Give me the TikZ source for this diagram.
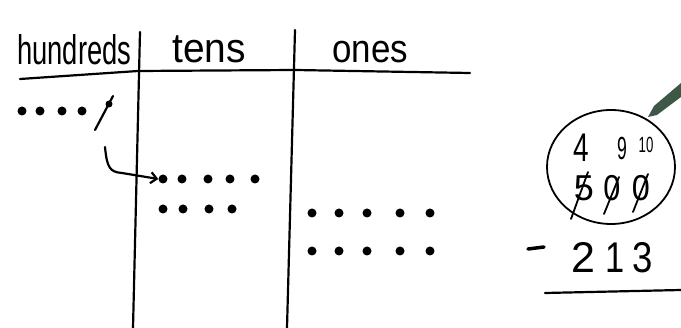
\documentclass[tikz,border=0pt]{standalone}
\usepackage{fontspec}
\setmainfont{Liberation Sans}
\usetikzlibrary{arrows.meta,shapes.geometric}
\definecolor{pencil}{RGB}{62,88,72}
\begin{document}
\begin{tikzpicture}[x=1pt,y=-1pt, line cap=round, line join=round,
  pen/.style={line width=2.2pt},
  dotn/.style={circle, fill=black, inner sep=0pt, minimum width=9pt},
  lbl/.style={inner sep=0pt, anchor=base west, font=\fontsize{36}{36}\selectfont},
  dig/.style={inner sep=0pt, anchor=base, font=\fontsize{#1}{#1}\selectfont}]
\useasboundingbox (0,0) rectangle (681,328);
% table lines
\draw[pen] (20,79) -- (138,71) -- (295,70) -- (470,73);
\draw[pen] (140,32) -- (133,328);
\draw[pen] (295,30) -- (287,328);
% headings
\node[lbl] (hh) at (17,65) {\scalebox{0.76}[1.15]{hundreds}};
\node[lbl] (ht) at (172,63) {\scalebox{1.08}[1.15]{tens}};
\node[lbl] (ho) at (332,63) {\scalebox{0.97}[1.1]{ones}};
% hundreds dots
\foreach \x [count=\i] in {22,40,62,82} \node[dotn] (h\i) at (\x,111) {};
\draw[pen] (95,130) -- (113,96);
\node[dotn, minimum width=7pt] (h5) at (109,104) {};
% tens dots
\foreach \x [count=\i] in {163,182,208,230,255} \node[dotn] (t\i) at (\x,179) {};
\foreach \x [count=\i] in {163,183,209,232} \node[dotn] (u\i) at (\x,209) {};
% ones dots
\foreach \x [count=\i] in {312,339,367,400,430} \node[dotn] (o\i) at (\x,213) {};
\foreach \x [count=\i] in {312,339,367,400,430} \node[dotn] (p\i) at (\x,251) {};
% regroup arrow
\coordinate (brk) at (105,147);
\draw[pen, -{Straight Barb[length=6pt,width=11pt]}] (brk) .. controls (107,168) and (110,172) .. (122,173) -- (t1.west);
% circled subtraction
\node[draw, ellipse, line width=1.8pt, minimum width=128pt, minimum height=114pt, inner sep=0pt] (ring) at (611,167) {};
\fill[pencil] (648,117) -- (654,106) -- (681,83) -- (681,97) -- (657,115) -- cycle;
\node[dig=40] (n4) at (581,162) {\scalebox{0.7}[1]{4}};
\node[dig=32] (n9) at (622,160) {\scalebox{0.55}[1]{9}};
\node[dig=22] (n10) at (646,153) {\scalebox{0.6}[1]{10}};
\node[dig=36] (n5) at (584,201) {5};
\node[dig=36] (n0a) at (612,201) {\scalebox{0.85}[1]{0}};
\node[dig=36] (n0b) at (641,201) {\scalebox{0.9}[1]{0}};
\draw[line width=1.8pt] (571,219) -- (588,172);
\draw[line width=1.8pt] (604,214) -- (619,177);
\draw[line width=1.8pt] (633,212) -- (648,174);
\node[dig=43] (m2) at (583,273) {2};
\node[dig=43] (m1) at (615,273) {\scalebox{0.8}[1]{1}};
\node[dig=43] (m3) at (643,273) {\scalebox{0.85}[1]{3}};
\draw[line width=3.5pt] (528,249) -- (544,247);
\draw[pen] (545,293) -- (681,290);
\end{tikzpicture}
\end{document}
